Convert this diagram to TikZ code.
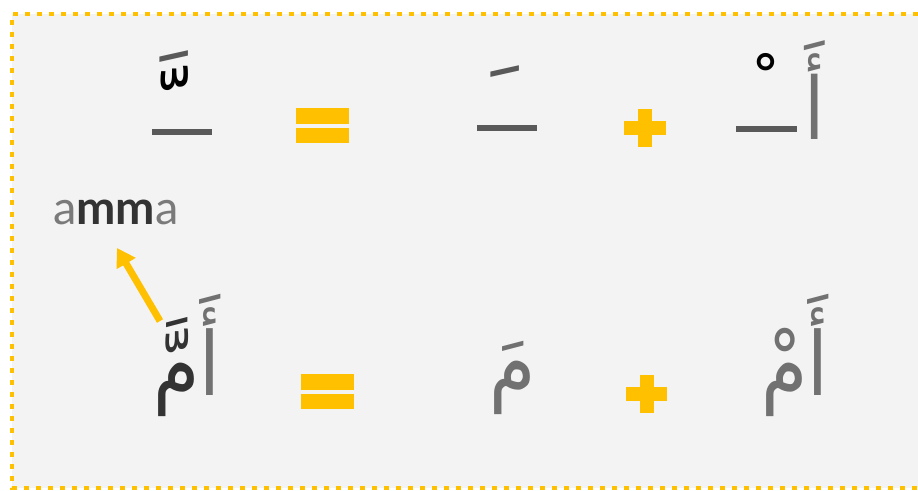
\documentclass[tikz,border=0pt]{standalone}
\usepackage{fontspec}
\usetikzlibrary{arrows.meta}
\TeXXeTstate=1
\newfontfamily\arabicfont[Script=Arabic, FakeStretch=0.85]{DejaVu Sans}
\newfontfamily\markfont[Script=Arabic]{DejaVu Sans}
\newfontfamily\labelfont{Lato}
\definecolor{gold}{HTML}{FFC000}
\definecolor{bgg}{HTML}{F3F3F3}
\definecolor{bargray}{HTML}{595959}
\definecolor{letgray}{HTML}{717171}
\definecolor{darkl}{HTML}{333333}
\definecolor{labgray}{HTML}{7A7A7A}
\tikzset{
  barfill/.style={fill=bargray},
  goldfill/.style={fill=gold},
  arab/.style={inner sep=0pt, font=\arabicfont\fontsize{#1}{#1}\selectfont},
  markn/.style={inner sep=0pt, font=\markfont\fontsize{#1}{#1}\selectfont},
}
\begin{document}
\begin{tikzpicture}[x=1pt,y=-1pt]
\useasboundingbox (0,0) rectangle (918,490);
\fill[white] (0,0) rectangle (918,490);
\fill[bgg] (12,14) rectangle (918,488);
\begin{scope}
\clip (0,0) rectangle (918,490);
\draw[gold, line width=4pt, dash pattern=on 5pt off 7pt] (930,14) -- (12,14) -- (12,488) -- (930,488);
\end{scope}
% top row
\fill[barfill] (152,129) rectangle (212,135);
\node[markn=90, text=black] (shadda1) at (175,105) {\char"FE7C};
\node[markn=100, text=bargray] (fatha1) at (174,86) {\char"FE76};
\fill[goldfill] (296,108) rectangle (349,124);
\fill[goldfill] (296,128) rectangle (349,143);
\fill[barfill] (477,125) rectangle (537,131);
\node[markn=100, text=bargray] (fatha2) at (505,101) {\char"FE76};
\fill[goldfill] (624,121) rectangle (666,135);
\fill[goldfill] (638,109) rectangle (652,147);
\fill[barfill] (736,126) rectangle (797,132);
\node[markn=65, text=black] (sukun1) at (766,82) {\char"FE7E};
\node[arab=86, text=letgray, anchor=base] (alef1) at (815,139) {\beginR أَ\endR};
% label and arrow
\node[inner sep=0pt, anchor=base west, font=\labelfont\fontsize{47}{47}\selectfont] (lab) at (53,224) {{\color{labgray}a}{\bfseries\color{darkl}mm}{\color{labgray}a}};
\coordinate (arrtail) at (160,321);
\draw[gold, line width=7pt, -{Triangle[width=21pt,length=18pt]}] (arrtail) -- (117,248);
% bottom row
\node[arab=88, anchor=base] (w1) at (187,395) {{\color{darkl}\beginR مَّ\endR}{\color{letgray}\beginR أَ\endR}};
\fill[goldfill] (301,374) rectangle (354,390);
\fill[goldfill] (301,394) rectangle (354,409);
\node[arab=88, text=letgray, anchor=base] (w2) at (513,393) {\beginR مَ\endR};
\fill[goldfill] (626,387) rectangle (667,401);
\fill[goldfill] (639.5,375) rectangle (653.5,413);
\node[arab=88, text=letgray, anchor=base] (w3) at (795,395) {\beginR أَمْ\endR};
\end{tikzpicture}
\end{document}
